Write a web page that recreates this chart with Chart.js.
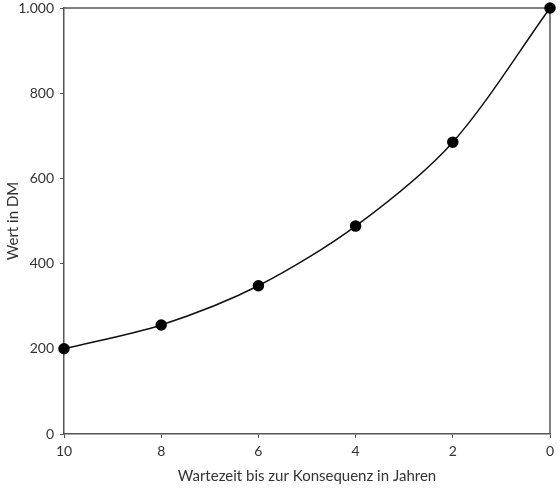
<!DOCTYPE html>
<html>
<head>
<meta charset="utf-8">
<script src="https://cdn.jsdelivr.net/npm/chart.js@4"></script>
<style>
  html, body { margin: 0; padding: 0; background: #fff; }
  #wrap { width: 560px; height: 489px; }
</style>
</head>
<body>
<div id="wrap"><canvas id="valueChart"></canvas></div>
<script>
const waitYears = [10, 8, 6, 4, 2, 0];
const valuesDM = [200, 256, 348, 488, 685, 1000];

const xTitle = "Wartezeit bis zur Konsequenz in Jahren";
const yTitle = "Wert in DM";

const axisColor = "#555";
const textColor = "#333";
const fontFamily = "Lato, 'DejaVu Sans', sans-serif";

// Closes the plot area with a top and right border line.
const frameBox = {
  id: "frameBox",
  beforeDatasetsDraw: (chart) => {
    const { ctx, chartArea } = chart;
    ctx.save();
    ctx.strokeStyle = axisColor;
    ctx.lineWidth = 1.5;
    ctx.beginPath();
    ctx.moveTo(chartArea.left, chartArea.top);
    ctx.lineTo(chartArea.right, chartArea.top);
    ctx.lineTo(chartArea.right, chartArea.bottom);
    ctx.stroke();
    ctx.restore();
  },
};

const ctx = document.getElementById("valueChart");

new Chart(ctx, {
  type: "line",
  data: {
    datasets: [
      {
        data: waitYears.map((x, i) => ({ x, y: valuesDM[i] })),
        borderColor: "#111",
        borderWidth: 1.5,
        tension: 0.3,
        pointRadius: 5,
        pointBackgroundColor: "#000",
        pointBorderColor: "#000",
        clip: false,
      },
    ],
  },
  options: {
    responsive: true,
    maintainAspectRatio: false,
    animation: false,
    layout: { padding: 0 },
    plugins: {
      legend: { display: false },
      tooltip: { enabled: false },
    },
    scales: {
      x: {
        type: "linear",
        reverse: true,
        min: 0,
        max: 10,
        afterFit: (scale) => {
          scale.height = 55;
          scale.paddingRight = 10;
          scale.paddingLeft = 0;
        },
        ticks: {
          stepSize: 2,
          color: textColor,
          font: { family: fontFamily, size: 14 },
          padding: 5,
        },
        grid: {
          drawOnChartArea: false,
          color: axisColor,
          tickLength: 4,
        },
        border: { color: axisColor, width: 1.5 },
        title: {
          display: true,
          text: xTitle,
          color: textColor,
          font: { family: fontFamily, size: 15 },
          padding: { top: 4 },
        },
      },
      y: {
        min: 0,
        max: 1000,
        afterFit: (scale) => {
          scale.width = 64;
          scale.paddingTop = 8;
          scale.paddingBottom = 0;
        },
        ticks: {
          stepSize: 200,
          color: textColor,
          font: { family: fontFamily, size: 14 },
          padding: 6,
          callback: (value) => value.toLocaleString("de-DE"),
        },
        grid: {
          drawOnChartArea: false,
          color: axisColor,
          tickLength: 4,
        },
        border: { color: axisColor, width: 1.5 },
        title: {
          display: true,
          text: yTitle,
          color: textColor,
          font: { family: fontFamily, size: 15 },
          padding: { bottom: 2 },
        },
      },
    },
  },
  plugins: [frameBox],
});
</script>
</body>
</html>
